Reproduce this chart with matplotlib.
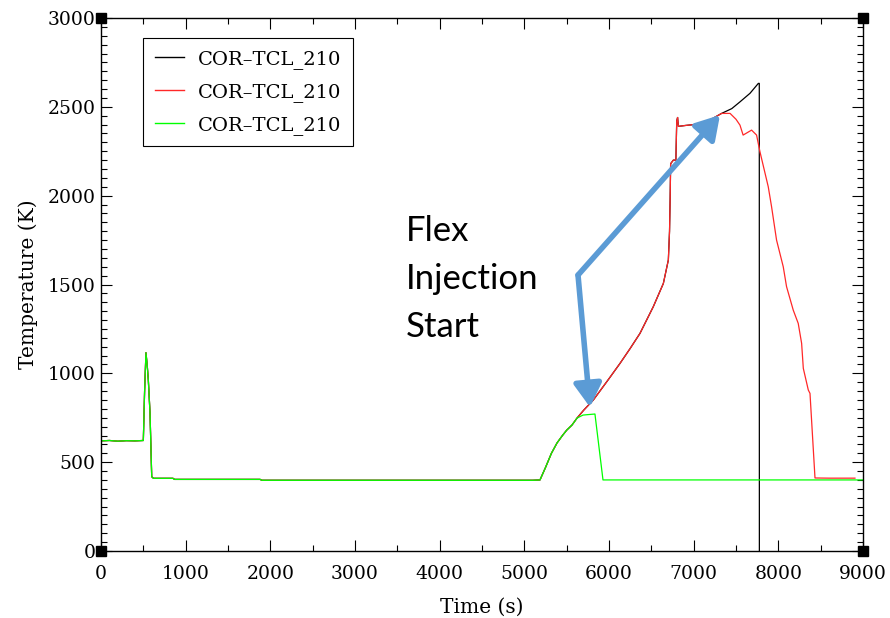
import matplotlib
matplotlib.use("Agg")
import matplotlib.pyplot as plt
from matplotlib.ticker import MultipleLocator
import numpy as np

# ---- data ----
# shared early history (all three sensors identical)
base_t = [0, 100, 200, 300, 400, 500, 515, 531, 545, 559, 579, 599, 620, 850, 870,
          1880, 1900, 5100, 5185, 5250, 5320, 5386, 5450, 5500, 5563, 5622]
base_T = [620, 622, 618, 621, 620, 622, 900, 1116, 1050, 962, 776, 418, 409, 409, 403,
          403, 398, 398, 400, 470, 550, 608, 650, 680, 709, 748]

# green sensor after divergence
green_t = [5693, 5760, 5834, 5929, 6000, 9000]
green_T = [765, 768, 771, 400, 400, 400]

# red sensor after divergence (shared by black up to ~7330 s)
red_mid_t = [5700, 5815, 5900, 6000, 6130, 6250, 6366, 6523, 6642, 6701, 6715, 6722,
             6728, 6760, 6790, 6800, 6810, 6820, 6900, 7000, 7153, 7330]
red_mid_T = [792, 850, 905, 970, 1056, 1140, 1225, 1375, 1506, 1638, 1800, 1980,
             2180, 2200, 2200, 2420, 2440, 2390, 2395, 2400, 2415, 2463]
red_end_t = [7430, 7500, 7547, 7584, 7684, 7743, 7783, 7881, 7920, 7979, 8058, 8097,
             8176, 8235, 8275, 8295, 8354, 8374, 8433, 8600, 8905]
red_end_T = [2463, 2430, 2397, 2341, 2369, 2341, 2247, 2050, 1938, 1750, 1600, 1488,
             1356, 1281, 1169, 1028, 906, 887, 411, 410, 410]

# black sensor tail (fails at ~7775 s)
black_end_t = [7450, 7547, 7665, 7764, 7775, 7776]
black_end_T = [2490, 2528, 2576, 2632, 2632, 0]

labels = ["COR\u2013TCL_210", "COR\u2013TCL_210", "COR\u2013TCL_210"]

annot_text = "Flex\nInjection\nStart"
annot_pos = (3600, 1530)
arrow_start = (5634, 1553)
arrow_tip1 = (7311, 2454)
arrow_tip2 = (5775, 810)

# ---- figure ----
fig = plt.figure(figsize=(8.9, 6.18), dpi=100)
ax = fig.add_axes([101/890, 1 - 551/618, 762/890, 533/618])

serif = "DejaVu Serif"
fs = 13.5

black_t = base_t + red_mid_t + black_end_t
black_T = base_T + red_mid_T + black_end_T
red_t = base_t + red_mid_t + red_end_t
red_T = base_T + red_mid_T + red_end_T
gr_t = base_t + green_t
gr_T = base_T + green_T

ax.plot(black_t, black_T, color="black", lw=0.9, label=labels[0])
ax.plot(red_t, red_T, color="#ff2828", lw=0.9, label=labels[1])
ax.plot(gr_t, gr_T, color="#00ff00", lw=0.9, label=labels[2])

ax.set_xlim(0, 9000)
ax.set_ylim(0, 3000)
ax.xaxis.set_major_locator(MultipleLocator(1000))
ax.xaxis.set_minor_locator(MultipleLocator(500))
ax.yaxis.set_major_locator(MultipleLocator(500))
ax.yaxis.set_minor_locator(MultipleLocator(50))
ax.tick_params(which="both", direction="in", top=True, right=True, width=0.8)
ax.tick_params(which="major", length=8)
ax.tick_params(which="minor", length=4)
for lab in ax.get_xticklabels() + ax.get_yticklabels():
    lab.set_fontfamily(serif)
    lab.set_fontsize(fs)
ax.tick_params(axis="x", pad=10)
ax.tick_params(axis="y", pad=4)
for s in ax.spines.values():
    s.set_linewidth(1.0)

ax.set_xlabel("Time (s)", fontfamily=serif, fontsize=14.5, labelpad=11)
ax.set_ylabel("Temperature (K)", fontfamily=serif, fontsize=14.5, labelpad=7)

# corner squares
ax.plot([0, 1, 0, 1], [0, 0, 1, 1], ls="none", marker="s", ms=6.5, color="black",
        transform=ax.transAxes, clip_on=False, zorder=5)

leg = ax.legend(loc="upper left", bbox_to_anchor=(0.055, 0.9625), borderaxespad=0,
                fancybox=False, edgecolor="black", framealpha=1,
                prop={"family": serif, "size": 14}, handlelength=1.5,
                handletextpad=0.75, labelspacing=0.72, borderpad=0.6)
leg.get_frame().set_linewidth(0.8)
for h in leg.get_lines():
    h.set_linewidth(1.0)

# annotation
ax.text(annot_pos[0], annot_pos[1], annot_text, fontfamily="Lato", fontsize=25,
        linespacing=1.62, va="center", ha="left", color="black")
arrow_kw = dict(arrowstyle="-|>,head_length=1.0,head_width=0.6", color="#5b9bd5",
                lw=4, shrinkA=0, shrinkB=0, mutation_scale=14)
ax.annotate("", xy=arrow_tip1, xytext=arrow_start, arrowprops=arrow_kw)
ax.annotate("", xy=arrow_tip2, xytext=arrow_start, arrowprops=arrow_kw)

fig.savefig("out.png", dpi=100)
